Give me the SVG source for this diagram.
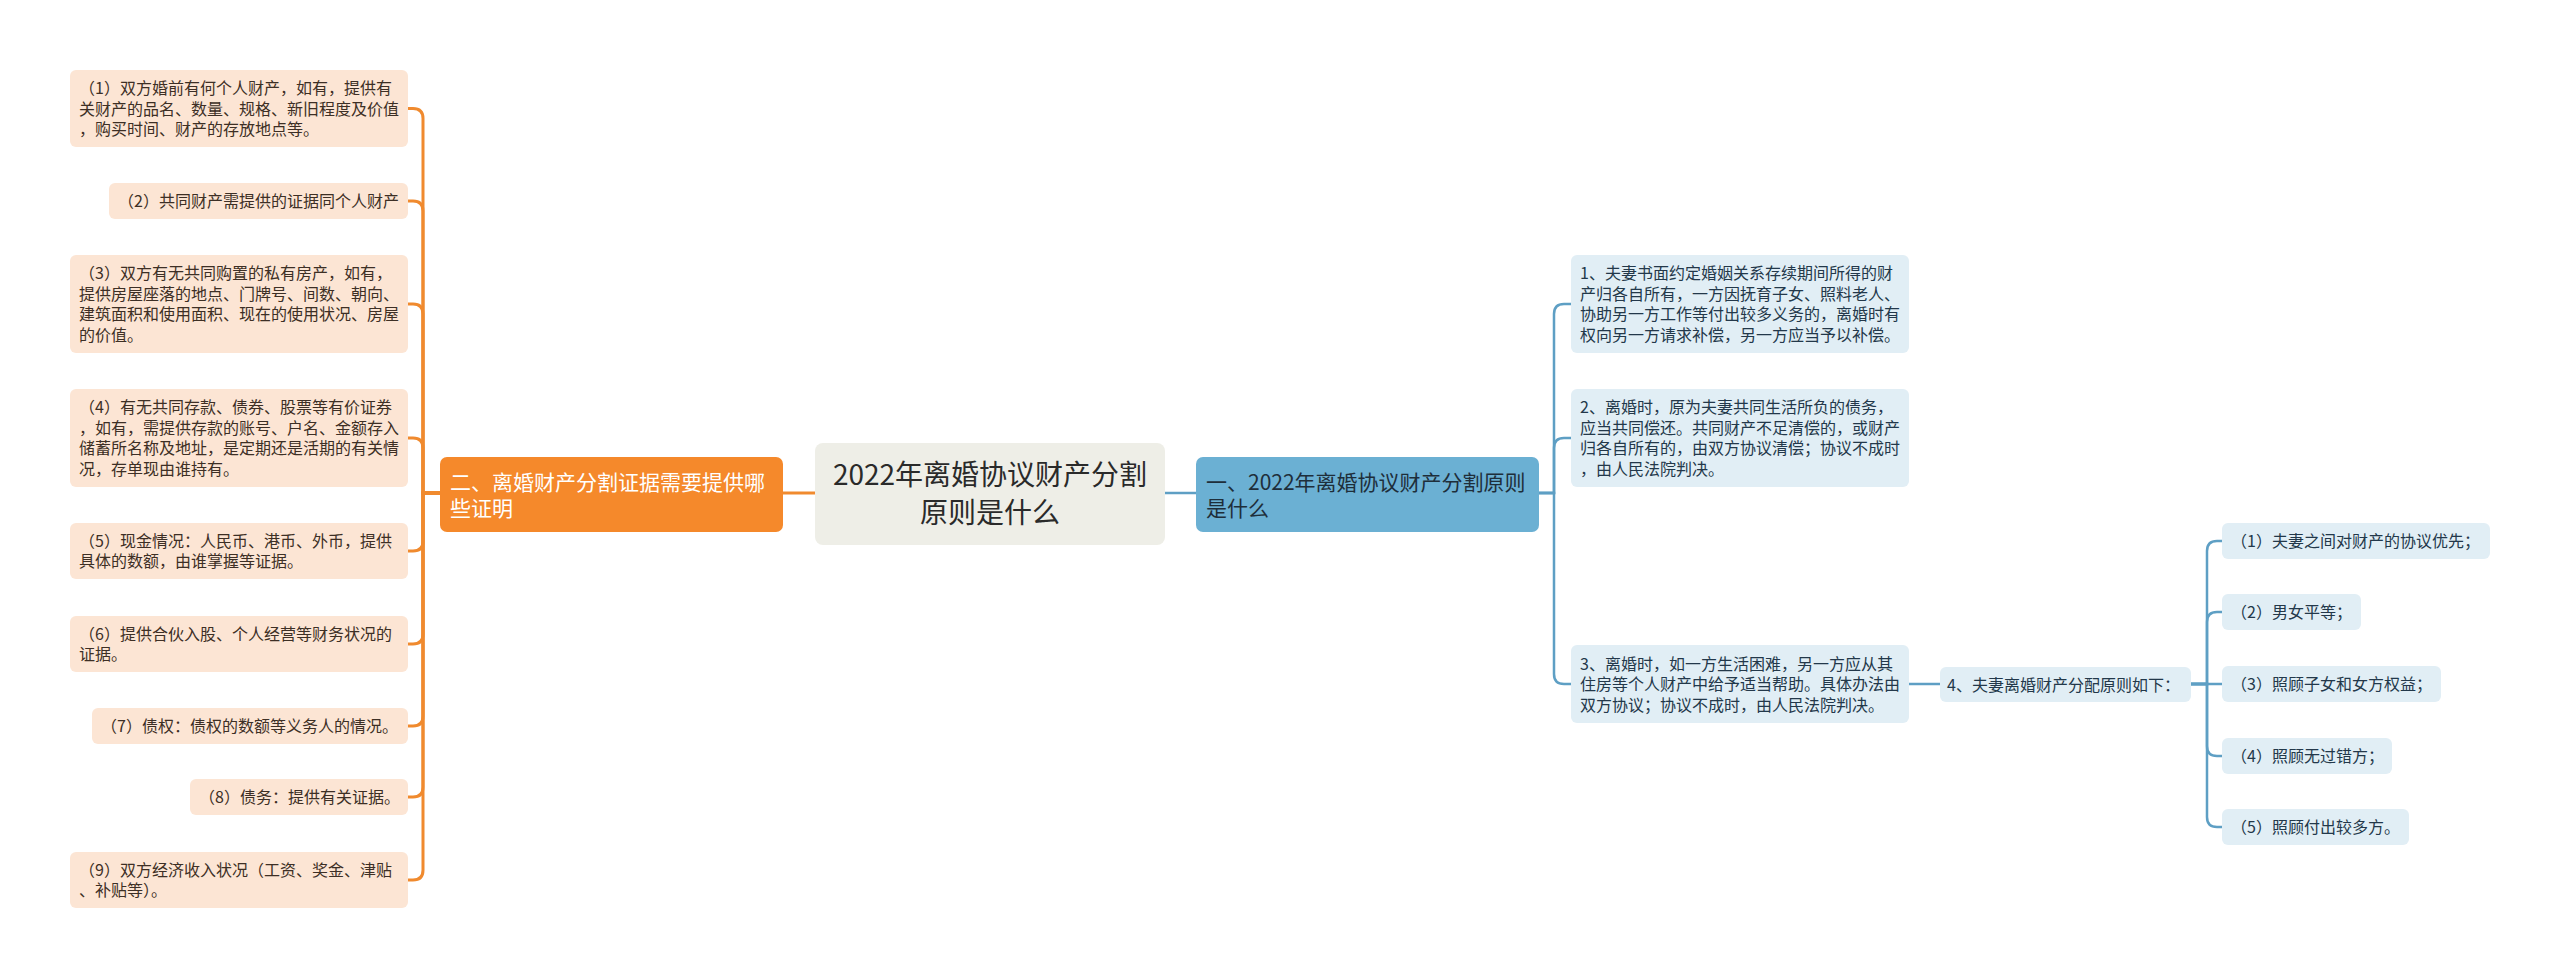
<svg xmlns="http://www.w3.org/2000/svg" width="2560" height="978" viewBox="0 0 2560 978">
<style>
text{font-family:"Noto Sans CJK SC","Noto Sans",sans-serif;}
.lf{fill:#FCE5D4;}
.rf{fill:#E1EEF5;}
.lt{font-size:16px;fill:#3d2f25;}
.rt{font-size:16px;fill:#23384a;}
.oc{fill:none;stroke:#F08A2E;stroke-width:3;}
.bc{fill:none;stroke:#5E9FC4;stroke-width:2.5;}
.mt{font-size:21px;}
</style>
<rect width="2560" height="978" fill="#ffffff"/>
<g id="connectors">
<path class="oc" d="M783 493 H815"/>
<path class="bc" d="M1165 493 H1196"/>
<path class="oc" d="M440 493 H423 V118.5 Q423 108.5 413 108.5 H408"/>
<path class="oc" d="M440 493 H423 V211 Q423 201 413 201 H408"/>
<path class="oc" d="M440 493 H423 V314 Q423 304 413 304 H408"/>
<path class="oc" d="M440 493 H423 V448 Q423 438 413 438 H408"/>
<path class="oc" d="M440 493 H423 V541 Q423 551 413 551 H408"/>
<path class="oc" d="M440 493 H423 V634 Q423 644 413 644 H408"/>
<path class="oc" d="M440 493 H423 V716 Q423 726 413 726 H408"/>
<path class="oc" d="M440 493 H423 V787 Q423 797 413 797 H408"/>
<path class="oc" d="M440 493 H423 V870 Q423 880 413 880 H408"/>
<path class="bc" d="M1539 493 H1554 V314 Q1554 304 1564 304 H1571"/>
<path class="bc" d="M1539 493 H1554 V448 Q1554 438 1564 438 H1571"/>
<path class="bc" d="M1539 493 H1554 V674 Q1554 684 1564 684 H1571"/>
<path class="bc" d="M1909 684 H1940"/>
<path class="bc" d="M2191 684 H2207 V551 Q2207 541 2217 541 H2222"/>
<path class="bc" d="M2191 684 H2207 V622 Q2207 612 2217 612 H2222"/>
<path class="bc" d="M2191 684 H2222"/>
<path class="bc" d="M2191 684 H2207 V746 Q2207 756 2217 756 H2222"/>
<path class="bc" d="M2191 684 H2207 V817 Q2207 827 2217 827 H2222"/>
</g>
<g id="center">
<rect x="815" y="443" width="350" height="102" rx="8" fill="#EEEEE7"/>
<text x="990" y="485" font-size="28" fill="#2a2a2a" text-anchor="middle">2022年离婚协议财产分割</text>
<text x="990" y="523" font-size="28" fill="#2a2a2a" text-anchor="middle">原则是什么</text>
</g>
<g id="left-main">
<rect x="440" y="457" width="343" height="75" rx="7" fill="#F5892B"/>
<text class="mt" x="450" y="490" fill="#ffffff">二、离婚财产分割证据需要提供哪</text>
<text class="mt" x="450" y="516" fill="#ffffff">些证明</text>
</g>
<g id="right-main">
<rect x="1196" y="457" width="343" height="75" rx="7" fill="#6BB0D3"/>
<text class="mt" x="1206" y="490" fill="#1e2e3a">一、2022年离婚协议财产分割原则</text>
<text class="mt" x="1206" y="516" fill="#1e2e3a">是什么</text>
</g>
<g id="l1">
<rect class="lf" x="70" y="70" width="338" height="77" rx="6"/>
<text class="lt" x="79" y="94">（1）双方婚前有何个人财产，如有，提供有</text>
<text class="lt" x="79" y="114.5">关财产的品名、数量、规格、新旧程度及价值</text>
<text class="lt" x="79" y="135">，购买时间、财产的存放地点等。</text>
</g>
<g id="l2">
<rect class="lf" x="109" y="183" width="299" height="36" rx="6"/>
<text class="lt" x="118" y="207">（2）共同财产需提供的证据同个人财产</text>
</g>
<g id="l3">
<rect class="lf" x="70" y="255" width="338" height="98" rx="6"/>
<text class="lt" x="79" y="279.3">（3）双方有无共同购置的私有房产，如有，</text>
<text class="lt" x="79" y="299.8">提供房屋座落的地点、门牌号、间数、朝向、</text>
<text class="lt" x="79" y="320.3">建筑面积和使用面积、现在的使用状况、房屋</text>
<text class="lt" x="79" y="340.8">的价值。</text>
</g>
<g id="l4">
<rect class="lf" x="70" y="389" width="338" height="98" rx="6"/>
<text class="lt" x="79" y="413.3">（4）有无共同存款、债券、股票等有价证券</text>
<text class="lt" x="79" y="433.8">，如有，需提供存款的账号、户名、金额存入</text>
<text class="lt" x="79" y="454.3">储蓄所名称及地址，是定期还是活期的有关情</text>
<text class="lt" x="79" y="474.8">况，存单现由谁持有。</text>
</g>
<g id="l5">
<rect class="lf" x="70" y="523" width="338" height="56" rx="6"/>
<text class="lt" x="79" y="546.8">（5）现金情况：人民币、港币、外币，提供</text>
<text class="lt" x="79" y="567.3">具体的数额，由谁掌握等证据。</text>
</g>
<g id="l6">
<rect class="lf" x="70" y="616" width="338" height="56" rx="6"/>
<text class="lt" x="79" y="639.8">（6）提供合伙入股、个人经营等财务状况的</text>
<text class="lt" x="79" y="660.3">证据。</text>
</g>
<g id="l7">
<rect class="lf" x="92" y="708" width="316" height="36" rx="6"/>
<text class="lt" x="101" y="732">（7）债权：债权的数额等义务人的情况。</text>
</g>
<g id="l8">
<rect class="lf" x="190" y="779" width="218" height="36" rx="6"/>
<text class="lt" x="199" y="803">（8）债务：提供有关证据。</text>
</g>
<g id="l9">
<rect class="lf" x="70" y="852" width="338" height="56" rx="6"/>
<text class="lt" x="79" y="875.8">（9）双方经济收入状况（工资、奖金、津贴</text>
<text class="lt" x="79" y="896.3">、补贴等）。</text>
</g>
<g id="r1">
<rect class="rf" x="1571" y="255" width="338" height="98" rx="6"/>
<text class="rt" x="1580" y="279.3">1、夫妻书面约定婚姻关系存续期间所得的财</text>
<text class="rt" x="1580" y="299.8">产归各自所有，一方因抚育子女、照料老人、</text>
<text class="rt" x="1580" y="320.3">协助另一方工作等付出较多义务的，离婚时有</text>
<text class="rt" x="1580" y="340.8">权向另一方请求补偿，另一方应当予以补偿。</text>
</g>
<g id="r2">
<rect class="rf" x="1571" y="389" width="338" height="98" rx="6"/>
<text class="rt" x="1580" y="413.3">2、离婚时，原为夫妻共同生活所负的债务，</text>
<text class="rt" x="1580" y="433.8">应当共同偿还。共同财产不足清偿的，或财产</text>
<text class="rt" x="1580" y="454.3">归各自所有的，由双方协议清偿；协议不成时</text>
<text class="rt" x="1580" y="474.8">，由人民法院判决。</text>
</g>
<g id="r3">
<rect class="rf" x="1571" y="645" width="338" height="78" rx="6"/>
<text class="rt" x="1580" y="669.5">3、离婚时，如一方生活困难，另一方应从其</text>
<text class="rt" x="1580" y="690">住房等个人财产中给予适当帮助。具体办法由</text>
<text class="rt" x="1580" y="710.5">双方协议；协议不成时，由人民法院判决。</text>
</g>
<g id="r4">
<rect class="rf" x="1940" y="667" width="251" height="35" rx="6"/>
<text class="rt" x="1947" y="690.5">4、夫妻离婚财产分配原则如下：</text>
</g>
<g id="s1">
<rect class="rf" x="2222" y="523" width="268" height="36" rx="6"/>
<text class="rt" x="2231" y="547">（1）夫妻之间对财产的协议优先；</text>
</g>
<g id="s2">
<rect class="rf" x="2222" y="594" width="139" height="36" rx="6"/>
<text class="rt" x="2231" y="618">（2）男女平等；</text>
</g>
<g id="s3">
<rect class="rf" x="2222" y="666" width="219" height="36" rx="6"/>
<text class="rt" x="2231" y="690">（3）照顾子女和女方权益；</text>
</g>
<g id="s4">
<rect class="rf" x="2222" y="738" width="170" height="36" rx="6"/>
<text class="rt" x="2231" y="762">（4）照顾无过错方；</text>
</g>
<g id="s5">
<rect class="rf" x="2222" y="809" width="187" height="36" rx="6"/>
<text class="rt" x="2231" y="833">（5）照顾付出较多方。</text>
</g>
</svg>
